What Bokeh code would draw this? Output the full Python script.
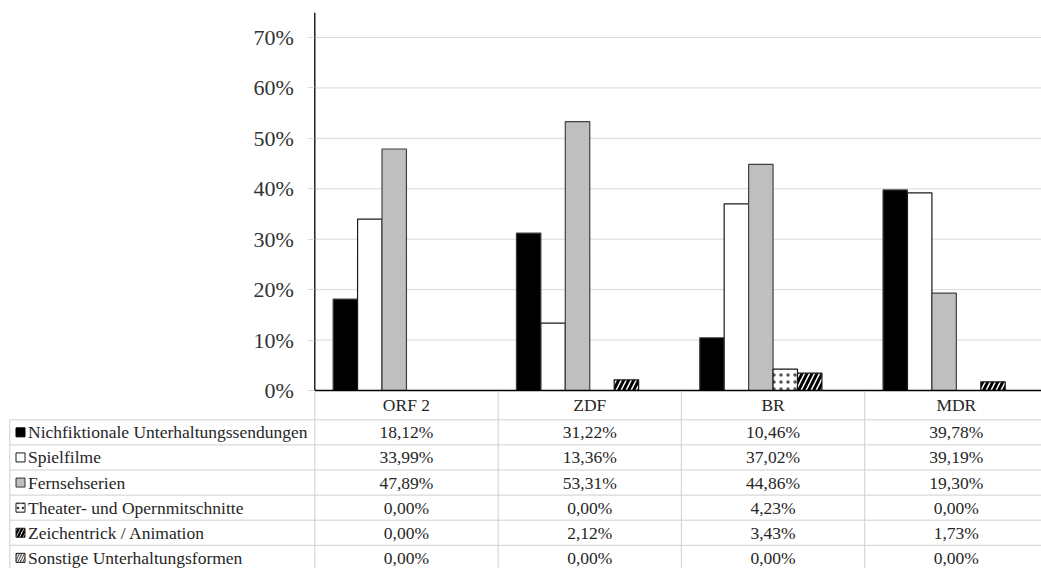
from bokeh.plotting import figure
from bokeh.models import Range1d, FixedTicker, PrintfTickFormatter, LinearAxis
from bokeh.core.properties import value
from bokeh.embed import file_html
from bokeh.resources import INLINE

# ---------------- data ----------------
categories = ["ORF 2", "ZDF", "BR", "MDR"]
series_names = [
    "Nichfiktionale Unterhaltungssendungen",
    "Spielfilme",
    "Fernsehserien",
    "Theater- und Opernmitschnitte",
    "Zeichentrick / Animation",
    "Sonstige Unterhaltungsformen",
]
nichtfiktional = [18.12, 31.22, 10.46, 39.78]
spielfilme = [33.99, 13.36, 37.02, 39.19]
fernsehserien = [47.89, 53.31, 44.86, 19.30]
theater = [0.00, 0.00, 4.23, 0.00]
zeichentrick = [0.00, 2.12, 3.43, 1.73]
sonstige = [0.00, 0.00, 0.00, 0.00]
series_values = [nichtfiktional, spielfilme, fernsehserien, theater, zeichentrick, sonstige]
y_ticks = [0, 10, 20, 30, 40, 50, 60, 70]

# ---------------- styles ----------------
styles = [
    dict(fill_color="#000000", line_color="#404040"),
    dict(fill_color="#ffffff", line_color="#1a1a1a"),
    dict(fill_color="#bfbfbf", line_color="#404040"),
    dict(fill_color="#ffffff", line_color="#1a1a1a", hatch_pattern=".", hatch_color="#555555", hatch_scale=7, hatch_weight=1.2),
    dict(fill_color="#ffffff", line_color="#1a1a1a", hatch_pattern="/", hatch_color="#000000", hatch_scale=10, hatch_weight=3),
    dict(fill_color="#ffffff", line_color="#1a1a1a", hatch_pattern="/", hatch_color="#333333", hatch_scale=4, hatch_weight=2),
]
marker_styles = [
    dict(fill_color="#000000", line_color="#000000"),
    dict(fill_color="#ffffff", line_color="#1a1a1a"),
    dict(fill_color="#bfbfbf", line_color="#333333"),
    dict(fill_color="#ffffff", line_color="#1a1a1a", hatch_pattern=".", hatch_color="#333333", hatch_scale=5, hatch_weight=1),
    dict(fill_color="#ffffff", line_color="#1a1a1a", hatch_pattern="/", hatch_color="#000000", hatch_scale=7, hatch_weight=2.5),
    dict(fill_color="#555555", line_color="#1a1a1a", hatch_pattern="/", hatch_color="#ffffff", hatch_scale=5, hatch_weight=1.2),
]
FONT_NAME = "Liberation Serif"
FONT = value(FONT_NAME)
TXT = "#262626"
TABLE_SIZE = "17.5px"
CAT_PX = 183.3          # px per category
FRAME_LEFT = 314.3      # page x of category 0
PAGE_LEFT = 0
PAGE_RIGHT = 1041
PAGE_TOP = 12
PAGE_BOTTOM = 568
ZERO_Y = 390.0          # page y of 0 %
PCT_PX = (390.0 - 37.0) / 70.0

def px_to_cat(px):
    return (px - FRAME_LEFT) / CAT_PX

n_cat = len(categories)
n_ser = len(series_names)
slot = 1 / 7.5

y_top = (ZERO_Y - PAGE_TOP) / PCT_PX
y_bottom = -(PAGE_BOTTOM - ZERO_Y) / PCT_PX

p = figure(width=PAGE_RIGHT - PAGE_LEFT, height=PAGE_BOTTOM,
           output_backend="svg", toolbar_location=None,
           x_axis_location=None, y_axis_location=None,
           x_range=Range1d(px_to_cat(PAGE_LEFT), px_to_cat(PAGE_RIGHT)),
           y_range=Range1d(y_bottom, y_top),
           min_border_left=0, min_border_right=0, min_border_top=PAGE_TOP, min_border_bottom=0)
p.outline_line_color = None
p.xgrid.grid_line_color = None
p.ygrid.grid_line_color = None

x_end = px_to_cat(PAGE_RIGHT + 20)

# gridlines (chart area only)
p.segment(x0=[0] * len(y_ticks), x1=[x_end] * len(y_ticks), y0=y_ticks, y1=y_ticks,
          line_color="#d9d9d9", line_width=1)

# y axis drawn at category 0
yax = LinearAxis(fixed_location=0, ticker=FixedTicker(ticks=y_ticks),
                 formatter=PrintfTickFormatter(format="%d%%"))
yax.axis_line_color = None
yax.major_tick_out = 7
yax.major_tick_in = 0
yax.major_tick_line_color = "#d9d9d9"
yax.minor_tick_line_color = None
yax.major_label_standoff = 14
yax.major_label_text_font = FONT_NAME
yax.major_label_text_font_size = "22px"
yax.major_label_text_color = "#333333"
p.add_layout(yax, "left")

# bars
for i, (vals, st) in enumerate(zip(series_values, styles)):
    xs = [c + 0.5 + (i - (n_ser - 1) / 2) * slot for c in range(n_cat)]
    p.vbar(x=xs, top=vals, bottom=0, width=slot, line_width=1.2, **st)

# axis lines
p.segment(x0=[0], x1=[0], y0=[0], y1=[y_top], line_color="#000000", line_width=1.3)
p.segment(x0=[0], x1=[x_end], y0=[0], y1=[0], line_color="#000000", line_width=1.5)

# ---------------- table (extra range in row units) ----------------
ROW_PX = 25.1
FIRST_ROW_TOP = 419.3
t_top = -(FIRST_ROW_TOP - PAGE_TOP) / ROW_PX
t_bot = (PAGE_BOTTOM - FIRST_ROW_TOP) / ROW_PX
p.extra_y_ranges = {"table": Range1d(t_bot, t_top)}
header_y = -(FIRST_ROW_TOP - 404.0) / ROW_PX
axis_row_y = -(FIRST_ROW_TOP - ZERO_Y) / ROW_PX

grid_col = "#cfcfcf"
left_x = px_to_cat(9.3)
n_rows = len(series_names)
p.segment(x0=[left_x] * (n_rows + 1), x1=[x_end] * (n_rows + 1),
          y0=list(range(n_rows + 1)), y1=list(range(n_rows + 1)),
          line_color=grid_col, line_width=1, y_range_name="table")
p.segment(x0=list(range(n_cat)), x1=list(range(n_cat)),
          y0=[axis_row_y + 0.04] * n_cat, y1=[n_rows + 1] * n_cat,
          line_color=grid_col, line_width=1, y_range_name="table")
p.segment(x0=[left_x], x1=[left_x], y0=[0], y1=[n_rows + 1],
          line_color=grid_col, line_width=1, y_range_name="table")

p.text(x=[c + 0.5 for c in range(n_cat)], y=[header_y] * n_cat, text=categories,
       text_align="center", text_baseline="middle", text_font=FONT,
       text_font_size=TABLE_SIZE, text_color=TXT, y_range_name="table")

for k, (name, vals, st) in enumerate(zip(series_names, series_values, marker_styles)):
    p.rect(x=[px_to_cat(20)], y=[k + 0.5], width=9, height=9,
           width_units="screen", height_units="screen", line_width=1,
           y_range_name="table", **st)
    p.text(x=[px_to_cat(27.5)], y=[k + 0.5], text=[name], text_align="left",
           text_baseline="middle", text_font=FONT, text_font_size=TABLE_SIZE,
           text_color=TXT, y_range_name="table")
    labels = [f"{v:.2f}".replace(".", ",") + "%" for v in vals]
    p.text(x=[c + 0.5 for c in range(n_cat)], y=[k + 0.5] * n_cat, text=labels,
           text_align="center", text_baseline="middle", text_font=FONT,
           text_font_size=TABLE_SIZE, text_color=TXT, y_range_name="table")

open("out.html", "w").write(file_html(p, INLINE))
